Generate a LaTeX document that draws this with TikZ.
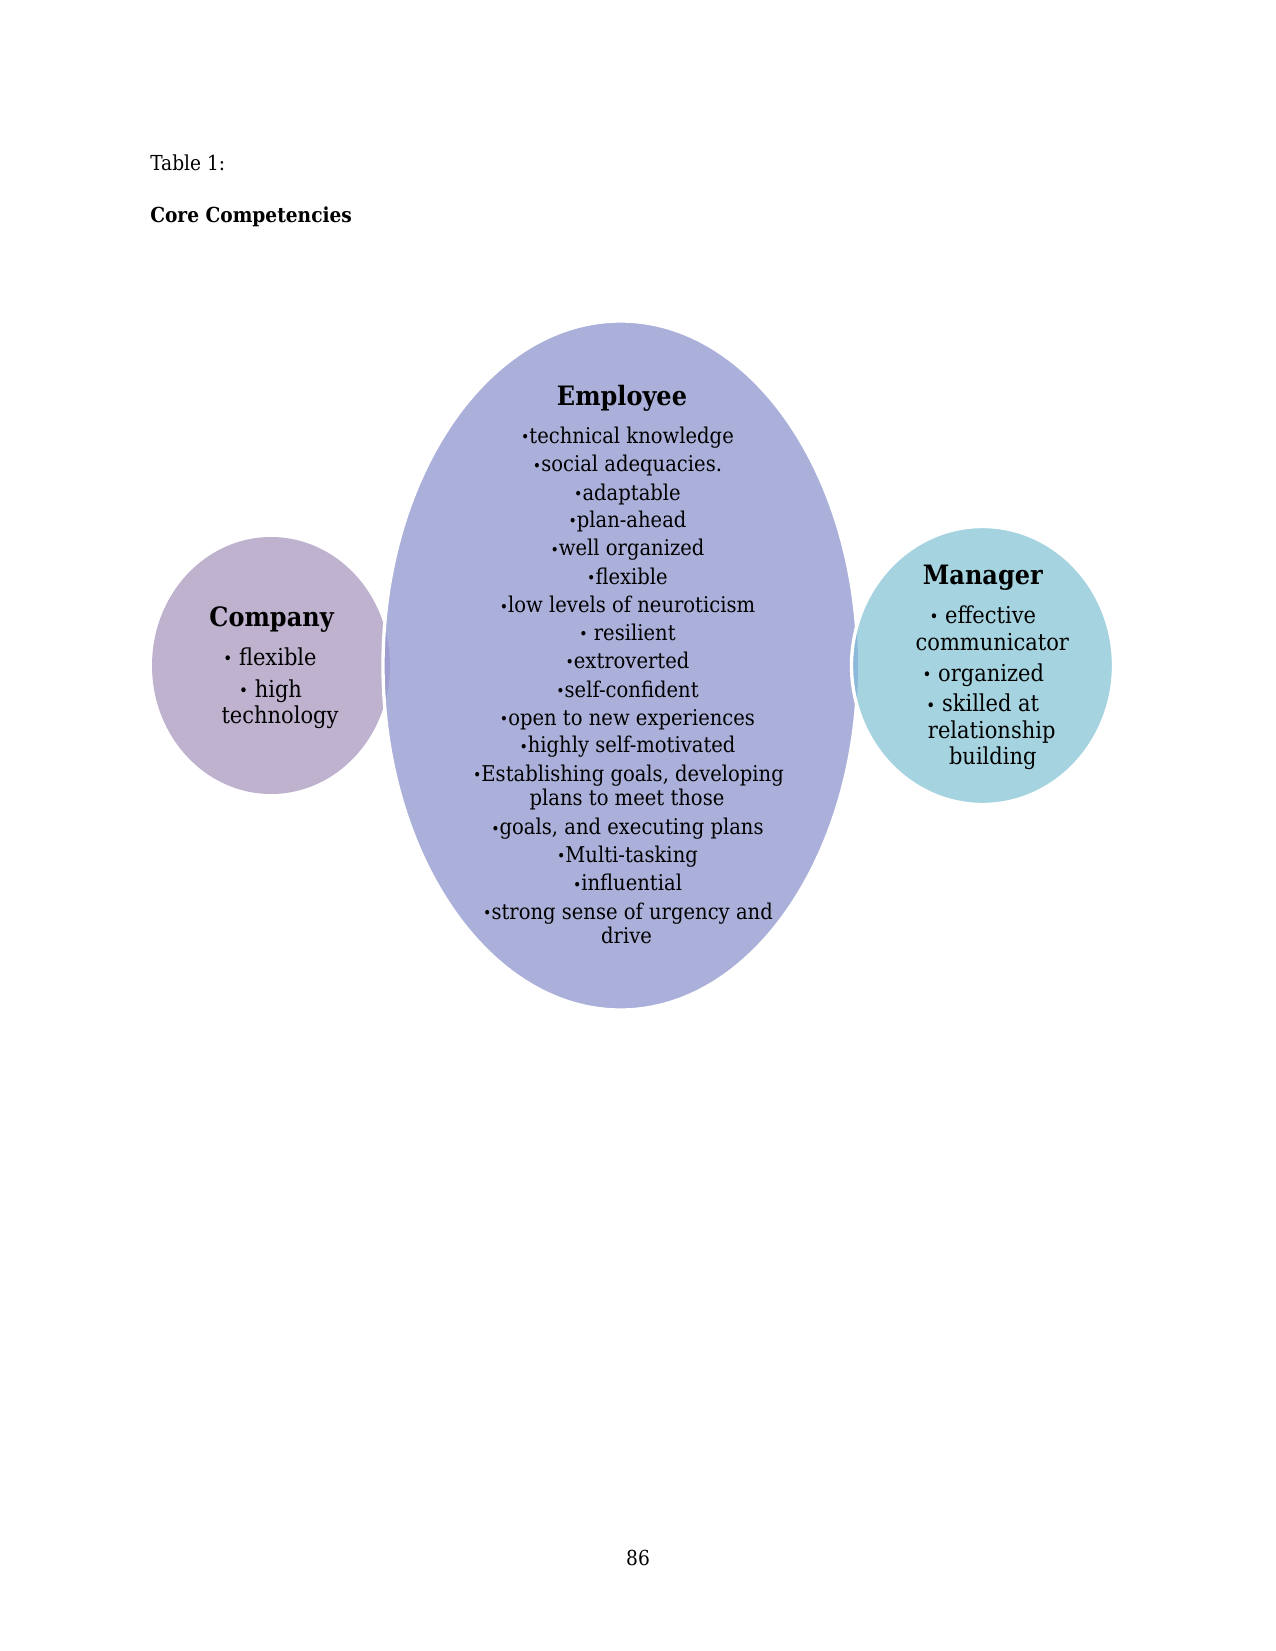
\documentclass[tikz,border=0pt]{standalone}
\usepackage{graphicx}
\usepackage{fontspec}
\setmainfont{DejaVu Serif}[FakeStretch=0.9]
\definecolor{compc}{RGB}{190,178,207}
\definecolor{empc}{RGB}{171,176,218}
\definecolor{manc}{RGB}{165,212,224}
\definecolor{ovlA}{RGB}{158,158,208}
\definecolor{ovlB}{RGB}{140,184,218}
\newcommand\bul{\raisebox{0.03em}{\scalebox{0.72}{•}}}
\begin{document}
\begin{tikzpicture}[x=0.75pt,y=-0.75pt,
  pagetxt/.style={font=\fontsize{15.5}{18}\selectfont, anchor=base west, inner sep=0},
  ebody/.style={font=\fontsize{16.3}{19}\selectfont, anchor=base, inner sep=0},
  cbody/.style={font=\fontsize{17.5}{20}\selectfont, anchor=base, inner sep=0},
  ttl/.style={font=\fontsize{20}{23}\selectfont\bfseries, anchor=base, inner sep=0},
  gap/.style={draw=white, line width=2.5pt}]
\useasboundingbox (0,0) rectangle (1275,1651);
% shapes
\fill[compc] (271,665.5) ellipse [x radius=119, y radius=128.5];
\fill[empc] (620.5,665.5) ellipse [x radius=237.5, y radius=344.5];
\begin{scope}
  \clip (271,665.5) ellipse [x radius=119, y radius=128.5];
  \fill[ovlA] (620.5,665.5) ellipse [x radius=237.5, y radius=344.5];
\end{scope}
\draw[gap] (620.5,665.5) ellipse [x radius=237.5, y radius=344.5];
\fill[manc] (982.5,665.5) ellipse [x radius=131, y radius=139];
\begin{scope}
  \clip (982.5,665.5) ellipse [x radius=131, y radius=139];
  \fill[ovlB] (620.5,665.5) ellipse [x radius=237.5, y radius=344.5];
\end{scope}
\draw[gap] (982.5,665.5) ellipse [x radius=131, y radius=139];
% page text
\node[pagetxt] (tab) at (150,171) {Table 1:};
\node[pagetxt, font=\fontsize{15.5}{18}\selectfont\bfseries] (core) at (150,223) {Core Competencies};
\node[pagetxt, anchor=base] (pg) at (638,1565) {86};
% company
\node[ttl] (ct) at (271.6,626.7) {Company};
\node[cbody] (c1) at (270,665.5) {\bul\ flexible};
\node[cbody] (c2) at (270.6,697.1) {\bul\ high};
\node[cbody] (c2b) at (280,723.5) {technology};
% employee
\node[ttl] (et) at (622,405.7) {Employee};
\node[ebody] (e1) at (627.5,443.3) {\bul technical knowledge};
\node[ebody] (e2) at (627.5,471.7) {\bul social adequacies.};
\node[ebody] (e3) at (627.5,500.1) {\bul adaptable};
\node[ebody] (e4) at (627.5,527.5) {\bul plan-ahead};
\node[ebody] (e5) at (627.5,555.9) {\bul well organized};
\node[ebody] (e6) at (627.5,584.3) {\bul flexible};
\node[ebody] (e7) at (627.5,612.8) {\bul low levels of neuroticism};
\node[ebody] (e8) at (627.5,640.1) {\bul\ resilient};
\node[ebody] (e9) at (627.5,668.6) {\bul extroverted};
\node[ebody] (e10) at (627.5,697.0) {\bul self-confident};
\node[ebody] (e11) at (627.5,725.4) {\bul open to new experiences};
\node[ebody] (e12) at (627.5,752.8) {\bul highly self-motivated};
\node[ebody] (e13) at (628.5,781.2) {\bul Establishing goals, developing};
\node[ebody] (e13b) at (627,805.4) {plans to meet those};
\node[ebody] (e14) at (627.5,834.9) {\bul goals, and executing plans};
\node[ebody] (e15) at (627.5,862.3) {\bul Multi-tasking};
\node[ebody] (e16) at (627.5,890.7) {\bul influential};
\node[ebody] (e17) at (628,919.1) {\bul strong sense of urgency and};
\node[ebody] (e17b) at (626.5,943.3) {drive};
% manager
\node[ttl] (mt) at (982.8,584.6) {Manager};
\node[cbody] (m1) at (982.8,623.4) {\bul\ effective};
\node[cbody] (m1b) at (992.3,650.8) {communicator};
\node[cbody] (m2) at (983.3,681.3) {\bul\ organized};
\node[cbody] (m3) at (982.8,711.8) {\bul\ skilled at};
\node[cbody] (m3b) at (991.7,738.1) {relationship};
\node[cbody] (m3c) at (992.8,764.5) {building};
\end{tikzpicture}
\end{document}
